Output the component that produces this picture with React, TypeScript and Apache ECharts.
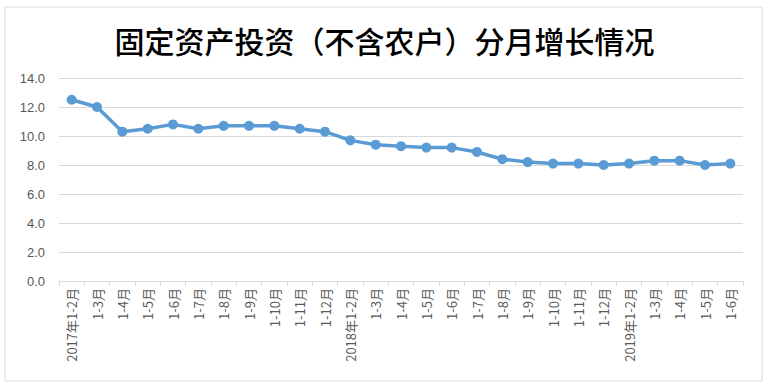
import React, { useEffect, useRef } from "react";
import * as echarts from "echarts";

const titleText = "固定资产投资（不含农户）分月增长情况";
const categories = [
  "2017年1-2月", "1-3月", "1-4月", "1-5月", "1-6月", "1-7月", "1-8月", "1-9月", "1-10月", "1-11月", "1-12月",
  "2018年1-2月", "1-3月", "1-4月", "1-5月", "1-6月", "1-7月", "1-8月", "1-9月", "1-10月", "1-11月", "1-12月",
  "2019年1-2月", "1-3月", "1-4月", "1-5月", "1-6月",
];
const growth = [
  12.5, 12.0, 10.3, 10.5, 10.8, 10.5, 10.7, 10.7, 10.7, 10.5, 10.3,
  9.7, 9.4, 9.3, 9.2, 9.2, 8.9, 8.4, 8.2, 8.1, 8.1, 8.0,
  8.1, 8.3, 8.3, 8.0, 8.1,
];

export default function App() {
  const ref = useRef<HTMLDivElement>(null);
  useEffect(() => {
    if (!ref.current) return;
    document.body.style.margin = "0";
    const chart = echarts.init(ref.current, null, { renderer: "svg" });
    chart.setOption({
      animation: false,
      backgroundColor: "#ffffff",
      title: {
        text: titleText,
        left: "center",
        top: 20,
        textStyle: {
          fontFamily: "Noto Sans CJK SC",
          fontSize: 30,
          fontWeight: 500,
          color: "#000000",
        },
      },
      graphic: [
        {
          type: "rect",
          shape: { x: 5, y: 7, width: 757, height: 374 },
          style: { fill: "none", stroke: "#d9d9d9", lineWidth: 1 },
          silent: true,
        },
      ],
      grid: { left: 59, right: 26, top: 78, bottom: 109 },
      xAxis: {
        type: "category",
        data: categories,
        boundaryGap: true,
        axisLine: { lineStyle: { color: "#d9d9d9" } },
        axisTick: { show: true, length: 5, lineStyle: { color: "#d9d9d9" } },
        axisLabel: {
          rotate: 90,
          interval: 0,
          color: "#595959",
          fontSize: 13,
          fontFamily: "Noto Sans CJK SC",
          margin: 7,
        },
      },
      yAxis: {
        type: "value",
        min: 0,
        max: 14,
        interval: 2,
        axisLine: { show: false },
        axisTick: { show: false },
        splitLine: { lineStyle: { color: "#d9d9d9" } },
        axisLabel: {
          color: "#595959",
          fontSize: 13,
          fontFamily: "Liberation Sans",
          margin: 14,
          formatter: (v: number) => v.toFixed(1),
        },
      },
      series: [
        {
          type: "line",
          data: growth,
          symbol: "circle",
          symbolSize: 10,
          lineStyle: { color: "#5b9bd5", width: 3.5 },
          itemStyle: { color: "#5b9bd5" },
        },
      ],
    });
    return () => chart.dispose();
  }, []);
  return (
    <div
      ref={ref}
      style={{ position: "fixed", left: 0, top: 0, width: 769, height: 390 }}
    />
  );
}
